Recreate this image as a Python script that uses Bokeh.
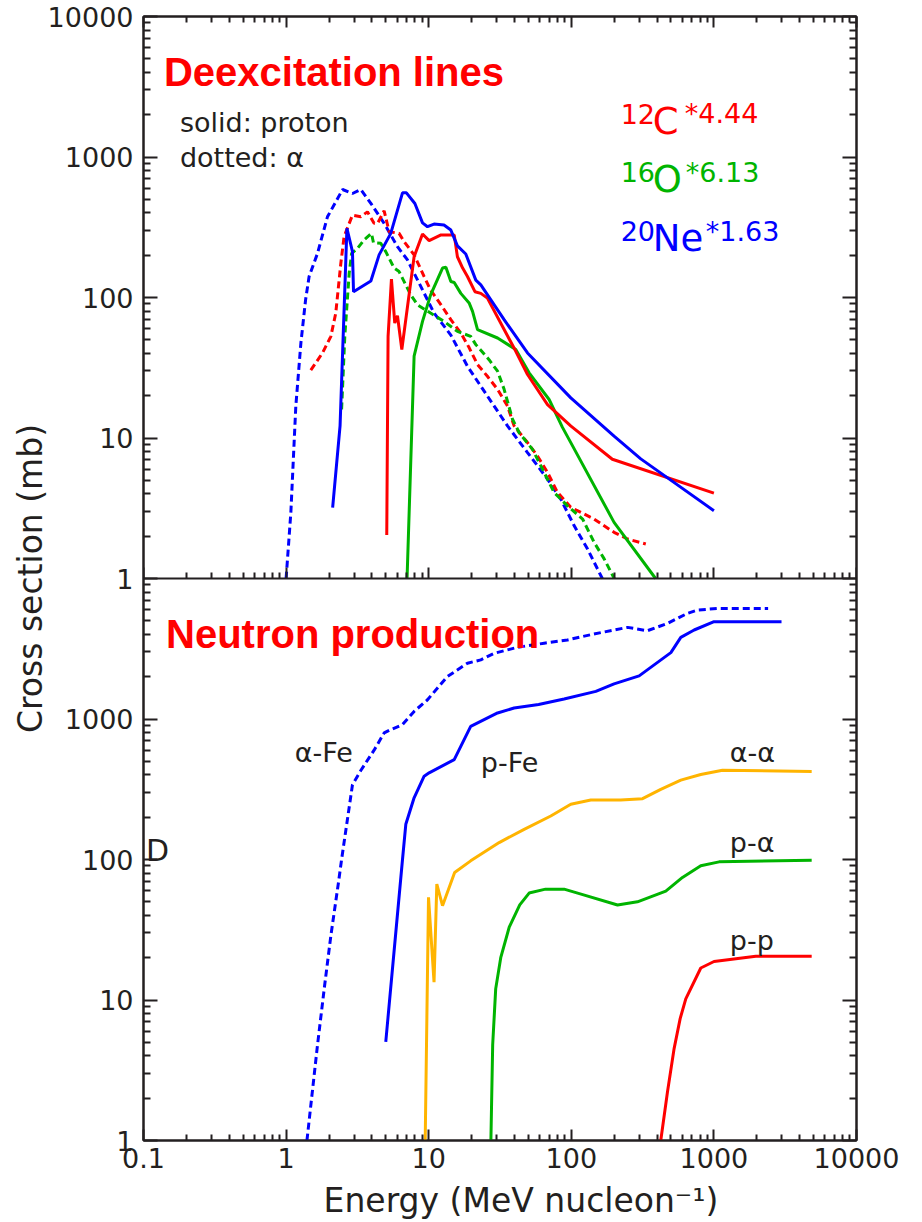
from bokeh.plotting import figure
from bokeh.models import Range1d, LogScale, LogAxis, FixedTicker, CustomJSTickFormatter, Label
from bokeh.embed import file_html
from bokeh.resources import INLINE

# ---------------- data: Deexcitation lines (top panel) ----------------
c12_p_E = [5.08, 5.19, 5.48, 5.78, 6.04, 6.48, 7.9, 9.05, 10.07, 12.2, 15.1, 15.9, 17.3, 18.7, 21.1, 23.2, 25.8, 40.8, 49.3, 68.1, 99, 194, 1000]
c12_p_s = [2.04, 52.9, 135, 65.8, 74.1, 42.6, 195, 283, 254, 279, 279, 195, 162, 141, 110, 107, 99, 41.4, 28.3, 17.3, 12.2, 7.06, 4.05]

o16_p_E = [7.05, 7.9, 9.05, 10.3, 12.5, 13.2, 14.3, 15.1, 16.8, 19.2, 20.3, 22.0, 30.4, 40.8, 50.6, 69.9, 86.7, 99.2, 199.5, 390]
o16_p_s = [1.0, 38.2, 67.6, 104, 162, 164, 130, 128, 107, 91.5, 79.6, 59.0, 51.5, 42.6, 29.1, 18.8, 11.9, 9.27, 2.51, 1.0]

ne20_p_E = [2.12, 2.39, 2.67, 2.92, 2.97, 3.93, 4.49, 5.42, 6.55, 6.98, 8.0, 9.05, 9.81, 10.9, 12.8, 14.3, 15.9, 18.2, 21.4, 23.2, 28.8, 33.8, 49.3, 99.2, 199.5, 307, 1000]
ne20_p_s = [3.2, 12.2, 311, 212, 110, 131, 201, 286, 556, 556, 467, 340, 319, 333, 328, 302, 233, 204, 133, 123, 88.7, 69.5, 40.3, 19.3, 10.3, 7.1, 3.04]

c12_a_E = [1.49, 1.80, 2.06, 2.23, 2.42, 2.55, 2.92, 3.34, 3.72, 4.14, 4.38, 4.87, 5.28, 6.2, 6.72, 7.9, 9.29, 10.3, 12.2, 14.3, 16.8, 19.2, 22.0, 25.8, 30.4, 35.7, 39.7, 49.3, 57.9, 68.1, 80, 99.2, 144.5, 199.5, 248, 333]
c12_a_s = [30.4, 40.3, 52.9, 77.5, 175, 271, 386, 376, 407, 337, 337, 414, 294, 286, 250, 201, 141, 113, 88.7, 69.5, 55.9, 44.0, 33.3, 27.5, 22.2, 16.9, 12.2, 9.28, 7.45, 5.69, 4.1, 3.21, 2.65, 2.13, 1.91, 1.76]

o16_a_E = [2.45, 2.58, 2.77, 2.88, 3.17, 3.52, 3.97, 4.1, 4.61, 5.0, 5.72, 6.2, 7.5, 8.34, 10.3, 12.8, 15.9, 19.7, 21.4, 26.5, 30.4, 33.8, 38.7, 43.1, 53.5, 64.5, 75.7, 94, 120, 144.5, 170, 200]
o16_a_s = [16.0, 52.9, 149, 206, 224, 257, 286, 245, 243, 212, 162, 153, 104, 88.8, 77.5, 67.6, 57.4, 52.9, 46.2, 36.1, 29.9, 22.2, 13.6, 10.9, 8.3, 5.68, 4.1, 3.29, 2.65, 1.81, 1.38, 1.0]

ne20_a_E = [1.0, 1.08, 1.17, 1.27, 1.37, 1.45, 1.66, 1.95, 2.49, 2.92, 3.34, 3.93, 4.87, 6.04, 7.1, 8.8, 10.9, 14.3, 18.7, 25.8, 35.7, 49.3, 68.1, 84.4, 104.6, 130, 165]
ne20_a_s = [1.0, 2.96, 16.9, 47.5, 96.4, 141, 206, 375, 587, 550, 587, 468, 337, 230, 185, 120, 77.5, 54.0, 32.4, 19.9, 12.2, 7.88, 5.1, 3.67, 2.38, 1.62, 1.0]

# ---------------- data: Neutron production (bottom panel) ----------------
afe_E = [1.40, 1.66, 1.85, 2.06, 2.33, 2.46, 2.92, 3.34, 4.14, 4.87, 5.42, 6.55, 7.9, 9.81, 13.5, 18.7, 23.2, 28.8, 42, 64.5, 94, 144, 248, 342, 473, 653, 768, 1059, 2400]
afe_s = [1.0, 4.77, 12.0, 28.7, 68.7, 103, 340, 430, 600, 796, 840, 912, 1132, 1371, 2005, 2494, 2635, 2937, 3240, 3462, 3652, 4028, 4490, 4249, 4793, 5648, 5962, 6122, 6122]

pfe_E = [5.0, 6.55, 6.91, 7.9, 9.29, 10.07, 15.1, 19.7, 30.4, 39.7, 59, 89, 148.6, 199.5, 299, 499, 586, 727, 1002, 2980]
pfe_s = [5.04, 100, 178, 275, 392, 414, 514, 887, 1104, 1197, 1270, 1386, 1572, 1779, 2028, 2966, 3812, 4300, 4925, 4925]

aa_E = [9.45, 9.97, 10.9, 11.4, 12.5, 15.2, 19.7, 31.2, 46.7, 71.8, 99.2, 137, 222, 316, 424, 586, 809, 1149, 4850]
aa_s = [1.0, 53.8, 13.4, 66.8, 46.9, 80.9, 97.8, 132, 164, 204, 247, 265, 265, 271, 316, 367, 403, 432, 423]

pa_E = [27.3, 28.1, 29.5, 32.0, 36.7, 43.5, 50.6, 66.0, 89.0, 117, 211, 291, 460, 602, 809, 1087, 4850]
pa_s = [1.0, 4.8, 12.0, 20.0, 33.0, 47.5, 57.7, 61.5, 61.5, 56.7, 47.4, 50.0, 59.5, 74.5, 90.2, 96.2, 98.9]

pp_E = [424, 473, 526, 580, 635, 809, 1002, 1968, 4850]
pp_s = [1.0, 2.23, 4.51, 7.37, 10.2, 16.9, 18.8, 20.5, 20.5]

# ---------------- ticks ----------------
x_major = [0.1, 1, 10, 100, 1000, 10000]
x_minor = [k * 10.0 ** d for d in range(-1, 4) for k in range(2, 10)]
y_major = [10.0 ** d for d in range(-4, 5)]
y_minor = [k * 10.0 ** d for d in range(-4, 4) for k in range(2, 10)]

RED = "#ff0000"
GREEN = "#00b400"
BLUE = "#0000ff"
ORANGE = "#ffb400"
INK = "#231f20"
FONT = "DejaVu Sans"
BOLD = "Liberation Sans"
LW = 3
DOT = "7 4"

p = figure(width=906, height=1222, x_axis_type="log", y_axis_type="log",
           x_range=Range1d(0.1, 10000), y_range=Range1d(1e-4, 1e4),
           output_backend="svg", toolbar_location=None,
           min_border_left=143, min_border_right=50, min_border_top=16, min_border_bottom=79)
p.extra_y_ranges = {"bot": Range1d(1, 1e8)}
p.extra_y_scales = {"bot": LogScale()}
p.grid.visible = False
p.outline_line_color = INK
p.outline_line_width = 2
p.background_fill_color = "white"

BLANK = CustomJSTickFormatter(code="return '';")


def style_axis(ax, tin, tmin):
    ax.axis_line_color = INK
    ax.axis_line_width = 2
    ax.major_tick_line_color = INK
    ax.minor_tick_line_color = INK
    ax.major_tick_line_width = 2
    ax.minor_tick_line_width = 2
    ax.major_tick_in = tin
    ax.major_tick_out = 0
    ax.minor_tick_in = tmin
    ax.minor_tick_out = 0
    ax.major_label_text_font = FONT
    ax.major_label_text_font_size = "27px"
    ax.major_label_text_color = INK
    ax.axis_label_text_font = FONT
    ax.axis_label_text_font_style = "normal"
    ax.axis_label_text_font_size = "33px"
    ax.axis_label_text_color = INK


xt = FixedTicker(ticks=x_major, minor_ticks=x_minor)
yt = FixedTicker(ticks=y_major, minor_ticks=y_minor)

xa = p.xaxis[0]
xa.ticker = xt
xa.formatter = CustomJSTickFormatter(code="return tick < 1 ? tick.toFixed(1) : tick.toFixed(0);")
style_axis(xa, 11, 6)
xa.major_label_standoff = 7
xa.axis_label = "\u00a0\u00a0\u00a0\u00a0Energy (MeV nucleon\u207b\u00b9)"
xa.axis_label_standoff = 10

ya = p.yaxis[0]
ya.ticker = yt
ya.formatter = CustomJSTickFormatter(code="return (tick < 0.5 ? tick * 1e4 : tick).toFixed(0);")
style_axis(ya, 14, 7)
ya.major_label_standoff = 10
ya.axis_label = "Cross section (mb)"
ya.axis_label_standoff = -5

top_ax = LogAxis(ticker=xt, formatter=BLANK)
style_axis(top_ax, 11, 6)
top_ax.major_label_standoff = 0
p.add_layout(top_ax, "above")

mid_ax = LogAxis(ticker=xt, formatter=BLANK, fixed_location=1.0)
style_axis(mid_ax, 11, 6)
mid_ax.major_label_standoff = 0
p.add_layout(mid_ax, "below")

right_ax = LogAxis(ticker=yt, formatter=BLANK)
style_axis(right_ax, 14, 7)
right_ax.major_label_standoff = 0
p.add_layout(right_ax, "right")

# ---------------- top panel lines ----------------
p.line(ne20_a_E, ne20_a_s, line_color=BLUE, line_width=LW, line_dash=DOT)
p.line(c12_a_E, c12_a_s, line_color=RED, line_width=LW, line_dash=DOT)
p.line(o16_a_E, o16_a_s, line_color=GREEN, line_width=LW, line_dash=DOT)
p.line(o16_p_E, o16_p_s, line_color=GREEN, line_width=LW)
p.line(c12_p_E, c12_p_s, line_color=RED, line_width=LW)
p.line(ne20_p_E, ne20_p_s, line_color=BLUE, line_width=LW)

# ---------------- bottom panel lines ----------------
p.line(afe_E, afe_s, line_color=BLUE, line_width=LW, line_dash=DOT, y_range_name="bot")
p.line(pfe_E, pfe_s, line_color=BLUE, line_width=LW, y_range_name="bot")
p.line(aa_E, aa_s, line_color=ORANGE, line_width=LW, y_range_name="bot")
p.line(pa_E, pa_s, line_color=GREEN, line_width=LW, y_range_name="bot")
p.line(pp_E, pp_s, line_color=RED, line_width=LW, y_range_name="bot")


def lab(x, y, text, color=INK, size="27px", font=FONT, bold=False, rng="default"):
    p.add_layout(Label(x=x, y=y, text=text, text_color=color, text_font=font,
                       text_font_size=size, text_font_style="bold" if bold else "normal",
                       text_align="left", text_baseline="alphabetic", y_range_name=rng))


# top panel texts
lab(0.139, 4009, "Deexcitation lines", RED, "40px", BOLD, True)
lab(0.180, 1771, "solid: proton")
lab(0.180, 1000, "dotted: \u03b1")
lab(222, 2024, "12", RED)
lab(373, 1791, "C", RED, "37px")
lab(625, 2024, "*4.44", RED)
lab(222, 783, "16", GREEN)
lab(373, 689, "O", GREEN, "37px")
lab(635, 779, "*6.13", GREEN)
lab(222, 299, "20", BLUE)
lab(373, 265, "Ne", BLUE, "37px")
lab(877, 297, "*1.63", BLUE)

# bottom panel texts
lab(0.1438, 4027, "Neutron production", RED, "40px", BOLD, True, "bot")
lab(1.15, 574, "\u03b1-Fe", rng="bot")
lab(23.2, 492, "p-Fe", rng="bot")
lab(1292, 574, "\u03b1-\u03b1", rng="bot")
lab(1292, 133, "p-\u03b1", rng="bot")
lab(1292, 26.5, "p-p", rng="bot")
# stray "D" mark (outside the frame in the original; annotations are clipped
# to the frame here, so it sits just inside the lower panel's left edge)
lab(0.104, 115, "D", size="30px", rng="bot")

open("out.html", "w").write(file_html(p, INLINE))
